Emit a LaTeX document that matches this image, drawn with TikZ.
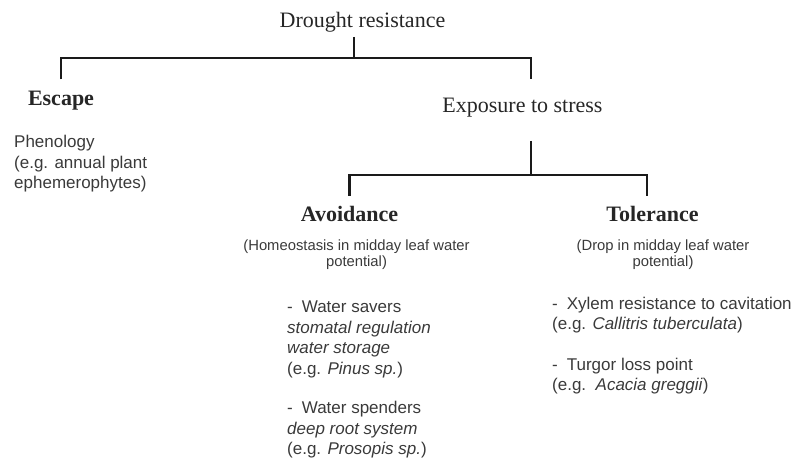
\documentclass[tikz,border=0pt]{standalone}
\usepackage{fontspec}
\setmainfont{Liberation Serif}
\setsansfont{Liberation Sans}
\definecolor{headgray}{HTML}{262626}
\definecolor{bodygray}{HTML}{3A3A3A}
\definecolor{linegray}{HTML}{1A1A1A}
\begin{document}
\begin{tikzpicture}[
  x=1pt, y=-1pt,
  head/.style={
    inner sep=0pt,
    anchor=base,
    text=headgray,
    font=\fontsize{22}{26}\selectfont
  },
  boldhead/.style={
    head,
    font=\fontsize{22}{26}\selectfont\bfseries
  },
  note/.style={
    inner sep=0pt,
    anchor=base,
    align=center,
    text=bodygray,
    font=\sffamily\fontsize{14.8}{16}\selectfont
  },
  body/.style={
    inner sep=0pt,
    anchor=base west,
    align=left,
    text=bodygray,
    font=\sffamily\fontsize{17}{20.5}\selectfont
  },
  branch/.style={draw=linegray, line width=2.6pt}
]
\useasboundingbox (0,0) rectangle (796,462);

% Top level of the classification.
\node[head] (drought) at (362.5,28) {Drought resistance};
\node[boldhead] (escape) at (61,106) {Escape};
\node[head] (exposure) at (522.5,113) {Exposure to stress};

% Second level under exposure.
\node[boldhead] (avoid) at (349.5,222) {Avoidance};
\node[boldhead] (toler) at (652.5,222) {Tolerance};

% Descriptions (placed at the baseline of their last line).
\node[body] (phenology) at (14,189) {Phenology\\(e.g. annual plant\\ephemerophytes)};
\node[note] (homeo) at (356.5,267) {(Homeostasis in midday leaf water\\potential)};
\node[note] (drop) at (663,267) {(Drop in midday leaf water\\potential)};

% Strategy examples.
\node[body] (savers) at (287,374.5) {-\hspace{9pt}Water savers\\\textit{stomatal regulation}\\\textit{water storage}\\(e.g. \textit{Pinus sp.})};
\node[body] (spenders) at (287,455) {-\hspace{9pt}Water spenders\\\textit{deep root system}\\(e.g. \textit{Prosopis sp.})};
\node[body] (xylem) at (552,330) {-\hspace{9pt}Xylem resistance to cavitation\\(e.g. \textit{Callitris tuberculata})};
\node[body] (turgor) at (552,391) {-\hspace{9pt}Turgor loss point\\(e.g.\ \ \textit{Acacia greggii})};

% Tree connectors.
\coordinate (rootjoin) at (354,58);
\coordinate (stressjoin) at (531,175);
\coordinate (tolerjoin) at (647,175);
\draw[branch, shorten <=4pt] (drought.south -| rootjoin) -- (rootjoin);
\draw[branch, shorten <=12pt, shorten >=19pt] (escape.north) |- (rootjoin) -| (exposure.north -| stressjoin);
\draw[branch, shorten <=23pt] (exposure.south -| stressjoin) -- (stressjoin);
\draw[branch, shorten <=11pt, shorten >=11pt] (avoid.north) |- (tolerjoin) -- (toler.north -| tolerjoin);

\end{tikzpicture}
\end{document}
